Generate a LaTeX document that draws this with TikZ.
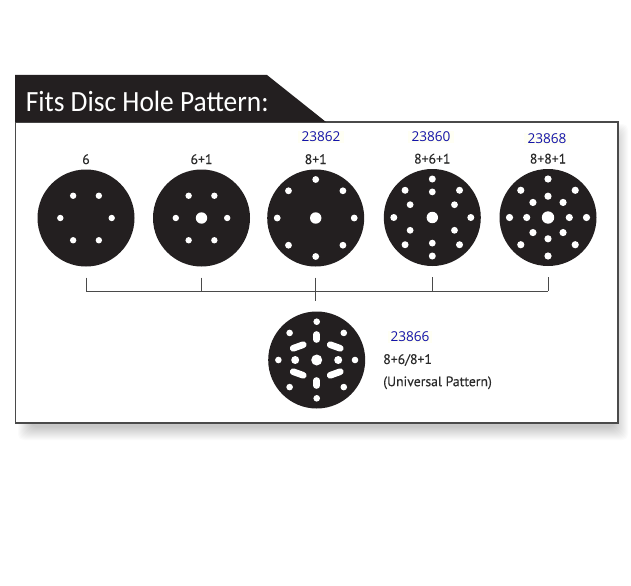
\documentclass[tikz,border=0pt]{standalone}
\usepackage{fontspec}
\setmainfont{PT Sans}
\newfontfamily\codefont{Open Sans}
\newfontfamily\titlefont[FakeStretch=0.935]{Carlito}
\newfontfamily\patfont[FakeBold=0.25]{PT Sans}
\usetikzlibrary{positioning}
\definecolor{discblack}{HTML}{231F20}
\definecolor{framegray}{HTML}{4A4A4A}
\definecolor{codeblue}{HTML}{1414A8}
\definecolor{codebg}{HTML}{FFFFF4}
\definecolor{labelgray}{HTML}{2B2B2B}

\begin{document}
\begin{tikzpicture}[
  x=0.75pt,y=-0.75pt,
  disc/.style={circle,fill=discblack,minimum size=72.75pt,inner sep=0pt},
  hole/.style={fill=white},
  slot/.style={draw=white,line width=5pt,line cap=round},
  patlabel/.style={text=labelgray,font=\patfont\fontsize{10.3}{12}\selectfont,inner sep=0pt},
  code/.style={text=codeblue,fill=codebg,font=\codefont\fontsize{10.2}{12}\selectfont,inner xsep=3pt,inner ysep=1pt},
  tick/.style={draw=framegray,line width=0.7pt},
]
\useasboundingbox (0,0) rectangle (631,585);
\fill[white] (0,0) rectangle (631,585);

% ============ shadow + frame + tab ============
\foreach \s in {0,1,...,13}
  \fill[black,opacity=0.014,rounded corners=4pt] (18+\s,124+\s) rectangle (628-\s,440-\s);
\draw[framegray,line width=1.1pt,fill=white] (15.5,122) rectangle (618,423);
\fill[discblack] (15,75) -- (267,75) -- (326,122) -- (15,122) -- cycle;
\node[text=white,font=\titlefont\fontsize{22}{26}\selectfont,anchor=base west,inner sep=0pt] (title) at (25.5,111)
  {Fits Disc Hole Pattern:};

% ============ top row of discs ============
\node[disc] (d1) at (86,218) {};
\node[disc] (d2) at (201.5,218) {};
\node[disc] (d3) at (315.7,218) {};
\node[disc] (d4) at (432.3,217.5) {};
\node[disc] (d5) at (548,217.5) {};
\node[disc] (univ) at (316.7,360) {};

\node[patlabel,above=3.6pt of d1] (l1) {6};
\node[patlabel,above=3.6pt of d2] (l2) {6+1};
\node[patlabel,above=3.6pt of d3] (l3) {8+1};
\node[patlabel,above=3.6pt of d4] (l4) {8+6+1};
\node[patlabel,above=3.6pt of d5] (l5) {8+8+1};

\node[code] (c3) at (321,137) {23862};
\node[code] (c4) at (431,137) {23860};
\node[code] (c5) at (547,139) {23868};

% holes
\foreach \ang in {0,60,...,300} {
  \fill[hole] (d1.center) ++(\ang:25.7) circle[radius=3.2];
  \fill[hole] (d2.center) ++(\ang:25.7) circle[radius=3.2];
}
\fill[hole] (d2.center) circle[radius=5.7];
\foreach \ang in {0,45,...,315} {
  \fill[hole] (d3.center) ++(\ang:38.5) circle[radius=3.4];
  \fill[hole] (d4.center) ++(\ang:38.5) circle[radius=3.5];
  \fill[hole] (d5.center) ++(\ang:38.5) circle[radius=3.6];
  \fill[hole] (d5.center) ++(\ang:21.3) circle[radius=3.6];
}
\foreach \ang in {30,90,...,330}
  \fill[hole] (d4.center) ++(\ang:25.6) circle[radius=3.4];
\fill[hole] (d3.center) circle[radius=5.7];
\fill[hole] (d4.center) circle[radius=5.7];
\fill[hole] (d5.center) circle[radius=6.2];

% ============ universal disc ============
\foreach \ang in {0,45,...,315}
  \fill[hole] (univ.center) ++(\ang:38.3) circle[radius=3.3];
\fill[hole] (univ.center) ++(-21.5,0) circle[radius=4];
\fill[hole] (univ.center) ++(21.5,0) circle[radius=4];
\fill[hole] (univ.center) circle[radius=5.5];
\draw[slot] (univ.center) ++(0,-25.5) -- ++(0,5);
\draw[slot] (univ.center) ++(0,20.5) -- ++(0,5);
\draw[slot] (univ.center) ++(-23.5,-11.7) -- ++(10,-3.6);
\draw[slot] (univ.center) ++(13.5,15.3) -- ++(10,-3.6);
\draw[slot] (univ.center) ++(13.5,-15.3) -- ++(10,3.6);
\draw[slot] (univ.center) ++(-23.5,11.7) -- ++(10,3.6);

\node[code,inner xsep=2pt] (c6) at (410,337) {23866};
\node[patlabel,anchor=west] (u1) at (383,360) {8+6/8+1};
\node[patlabel,below=7.5pt of u1.south west,anchor=north west] (u2) {(Universal Pattern)};

% ============ bracket ============
\coordinate (bus) at (316,291);
\foreach \d in {d1,d2,d3,d4,d5}
  \draw[tick,shorten <=8.2pt] (\d.south) -- (\d.south |- bus);
\draw[tick] (d1.south |- bus) -- (d5.south |- bus);
\draw[tick,shorten >=7.5pt] (d3.south |- bus) -- (d3.south |- univ.north);
\end{tikzpicture}
\end{document}
